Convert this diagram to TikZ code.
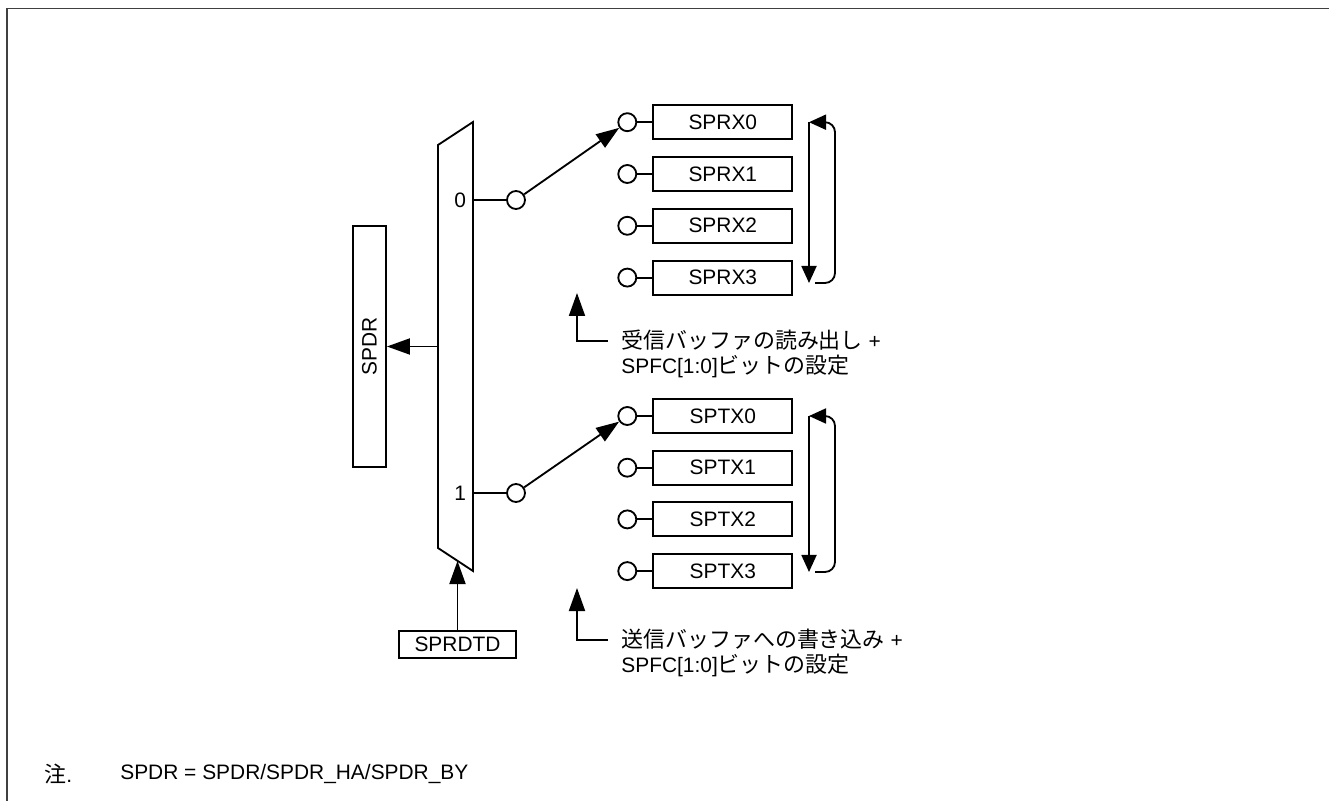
\documentclass[tikz,border=0pt]{standalone}
\usepackage{fontspec}
\setmainfont{Liberation Sans}
\newfontfamily\jpfont[Scale=1.05]{Noto Sans CJK JP}
\usetikzlibrary{arrows.meta}

\begin{document}
\begin{tikzpicture}[x=0.2mm,y=-0.2mm,font=\fontsize{11.9}{14.2}\selectfont]
\tikzset{
  wire/.style={draw=black,line width=1.05pt,line join=miter},
  bufbox/.style={rectangle,draw=black,line width=1.05pt,minimum width=27.8mm,minimum height=6.8mm,inner sep=0pt},
  port/.style={circle,draw=black,line width=1.05pt,minimum size=3.6mm,inner sep=0pt},
  bigarrow/.style={wire,-{Triangle[length=4.6mm,width=3.2mm]}},
  looparrow/.style={wire,-{Triangle[length=3.4mm,width=3mm]}},
  frameline/.style={draw=black!75,line width=0.3mm}
}
\useasboundingbox (0,0) rectangle (1329,801);
\draw[frameline] (7,801) -- (7,8.5) -- (1329,8.5);
% selector
\draw[wire] (438,145) -- (473,122) -- (473,571) -- (438,548) -- cycle;
\coordinate (mux_0) at (473,200);
\coordinate (mux_1) at (473,493);
\coordinate (mux_out) at (438,346.5);
\coordinate (mux_sel) at (457.5,561);
\node[anchor=east,inner sep=1pt] (lbl_0) at (468,200) {0};
\node[anchor=east,inner sep=1pt] (lbl_1) at (468,493) {1};
\node[port] (c_0) at (516,200) {};
\node[port] (c_1) at (516,493) {};
\draw[wire] (mux_0) -- (c_0);
\draw[wire] (mux_1) -- (c_1);
\node[rectangle,draw=black,line width=1.05pt,minimum width=6.6mm,minimum height=48.2mm,inner sep=0pt] (spdr) at (369.5,346.5) {};
\node[rotate=90] (spdr_lbl) at (spdr.center) {SPDR};
\draw[bigarrow] (mux_out) -- (spdr.east |- mux_out);
\node[rectangle,draw=black,line width=1.05pt,minimum width=23.4mm,minimum height=5.4mm,inner sep=0pt] (sel) at (457.5,644.5) {SPRDTD};
\draw[bigarrow] (sel.north) -- (mux_sel);
% buffers
\foreach \i in {0,...,3}{
  \node[bufbox] (rx\i) at (722.8,122.2+51.8*\i) {SPRX\i};
  \node[port] (prx\i) at (627.3,122.2+51.8*\i) {};
  \draw[wire] (prx\i) -- (rx\i);
  \node[bufbox] (tx\i) at (722.8,416+51.7*\i) {SPTX\i};
  \node[port] (ptx\i) at (627.3,416+51.7*\i) {};
  \draw[wire] (ptx\i) -- (tx\i);
}
\draw[bigarrow] (c_0) -- (prx0);
\draw[bigarrow] (c_1) -- (ptx0);
% rotation
\coordinate (rx_top) at (809,122.2);
\coordinate (rx_bot) at (809,283);
\coordinate (rx_ret) at (815,283);
\draw[looparrow] (rx_top) -- (rx_bot);
\draw[looparrow,rounded corners=2mm] (rx_ret) -- (835,283) -- (835,122.2) -- (rx_top);
\coordinate (tx_top) at (809,416);
\coordinate (tx_bot) at (809,572);
\coordinate (tx_ret) at (815,572);
\draw[looparrow] (tx_top) -- (tx_bot);
\draw[looparrow,rounded corners=2mm] (tx_ret) -- (835,572) -- (835,416) -- (tx_top);
% notes
\node[anchor=west,align=left,inner sep=0pt] (rx_note) at (621,353.5) {{\jpfont 受信バッファの読み出し} +\\SPFC[1:0]{\jpfont ビットの設定}};
\coordinate (rx_from) at (608,341);
\coordinate (rx_tip) at (577,293);
\draw[bigarrow] (rx_from) -| (rx_tip);
\node[anchor=west,align=left,inner sep=0pt] (tx_note) at (621,652.5) {{\jpfont 送信バッファへの書き込み} +\\SPFC[1:0]{\jpfont ビットの設定}};
\coordinate (tx_from) at (608,640);
\coordinate (tx_tip) at (577,588);
\draw[bigarrow] (tx_from) -| (tx_tip);
\node[anchor=west,inner sep=0pt] (fn_mark) at (44,774) {{\jpfont 注}.};
\node[anchor=west,inner sep=0pt] (fn_text) at (120,774) {SPDR = SPDR/SPDR\_HA/SPDR\_BY};
\end{tikzpicture}
\end{document}
